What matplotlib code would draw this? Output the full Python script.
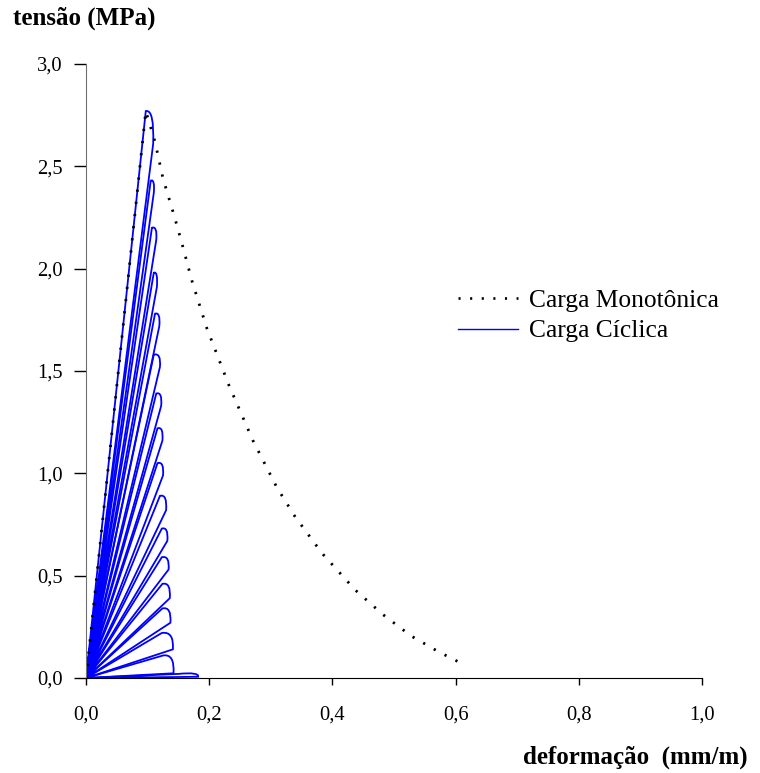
import numpy as np
import matplotlib.pyplot as plt
from matplotlib.path import Path
from matplotlib.patches import PathPatch
from matplotlib.lines import Line2D

plt.rcParams['font.family'] = ['Liberation Serif', 'DejaVu Serif']

# monotonic curve (strain mm/m, stress MPa)
mono_x = [0.0, 0.097, 0.112, 0.125, 0.143, 0.156, 0.172, 0.196, 0.232, 0.271,
          0.310, 0.339, 0.383, 0.437, 0.482, 0.528, 0.573, 0.602, 0.608]
mono_y = [0.0, 2.77, 2.62, 2.44, 2.26, 2.12, 1.94, 1.71, 1.43, 1.16,
          0.93, 0.79, 0.61, 0.43, 0.31, 0.205, 0.127, 0.083, 0.075]

# cyclic loops: end of loading branch (top) and start of unloading branch (bottom)
top_x = [0.097, 0.105, 0.107, 0.110, 0.112, 0.110, 0.114, 0.116, 0.116,
         0.120, 0.123, 0.123, 0.124, 0.124, 0.123, 0.125, 0.150]
top_y = [2.77, 2.43, 2.20, 1.98, 1.78, 1.58, 1.39, 1.22, 1.05,
         0.89, 0.73, 0.59, 0.46, 0.34, 0.22, 0.11, 0.02]
bot_x = [0.109, 0.110, 0.114, 0.115, 0.119, 0.120, 0.122, 0.124, 0.125,
         0.130, 0.132, 0.134, 0.136, 0.137, 0.141, 0.142, 0.182]
bot_y = [2.61, 2.37, 2.14, 1.91, 1.72, 1.52, 1.33, 1.16, 0.99,
         0.82, 0.67, 0.53, 0.39, 0.27, 0.14, 0.023, 0.006]

fig = plt.figure(figsize=(7.6, 7.73), dpi=100)
ax = fig.add_axes([0.1132, 0.1229, 0.8105, 0.7943])

for xt, yt, xb, yb in zip(top_x, top_y, bot_x, bot_y):
    verts = [(0, 0), (xt, yt), (xb + 0.002, yt + 0.01), (xb, yb), (0, 0)]
    codes = [Path.MOVETO, Path.LINETO, Path.CURVE3, Path.CURVE3, Path.LINETO]
    ax.add_patch(PathPatch(Path(verts, codes), facecolor='none',
                           edgecolor='#0000ff', lw=1.3))

dots = (0, (0.8, 3.6))
ax.plot(mono_x, mono_y, color='black', lw=2.0, linestyle=dots,
        dash_capstyle='butt')

ax.set_xlim(0, 1.0)
ax.set_ylim(0, 3.0)
ax.set_xticks(np.arange(0, 1.01, 0.2))
ax.set_yticks(np.arange(0, 3.01, 0.5))
ax.set_xticklabels([f'{v:.1f}'.replace('.', ',') for v in np.arange(0, 1.01, 0.2)])
ax.set_yticklabels([f'{v:.1f}'.replace('.', ',') for v in np.arange(0, 3.01, 0.5)])
for s in ['top', 'right']:
    ax.spines[s].set_visible(False)
ax.spines['left'].set_color('#707070')
ax.spines['bottom'].set_color('black')
ax.tick_params(axis='y', direction='out', length=8.6, width=1, pad=8, labelsize=14.8)
ax.tick_params(axis='x', direction='out', length=5, width=1, pad=15, labelsize=14.8)

fig.text(13 / 760, 1 - 18 / 773, 'tensão (MPa)', fontsize=18, fontweight='bold',
         ha='left', va='center')
fig.text(748 / 760, 1 - 757 / 773, 'deformação  (mm/m)', fontsize=18,
         fontweight='bold', ha='right', va='center')

handles = [Line2D([], [], color='black', lw=1.9, linestyle=dots, dash_capstyle='butt'),
           Line2D([], [], color='#0000ff', lw=1.0)]
ax.legend(handles, ['Carga Monotônica', 'Carga Cíclica'], loc='upper left',
          bbox_to_anchor=(458 / 760, 1 - 289 / 773), bbox_transform=fig.transFigure,
          frameon=False, fontsize=18.4, handlelength=2.35, handletextpad=0.42,
          labelspacing=0.3, borderpad=0, borderaxespad=0)

fig.savefig('out.png', dpi=100)
